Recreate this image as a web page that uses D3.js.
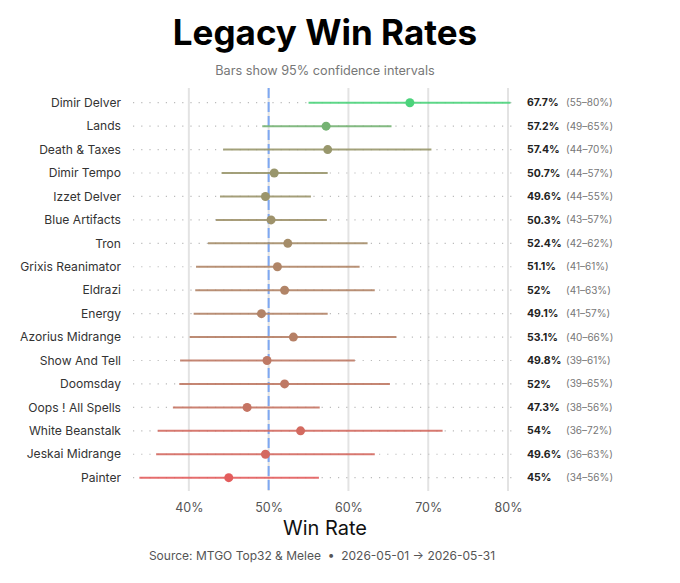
<!DOCTYPE html>
<html>
<head>
<meta charset="utf-8">
<script src="https://cdn.jsdelivr.net/npm/d3@7"></script>
<style>
  body { margin: 0; background: #fff; font-family: Inter, "Noto Sans", sans-serif; }
</style>
</head>
<body>
<div id="chart"></div>
<script>
const decks = ['Dimir Delver', 'Lands', 'Death & Taxes', 'Dimir Tempo', 'Izzet Delver', 'Blue Artifacts',
    'Tron', 'Grixis Reanimator', 'Eldrazi', 'Energy', 'Azorius Midrange', 'Show And Tell', 'Doomsday',
    'Oops ! All Spells', 'White Beanstalk', 'Jeskai Midrange', 'Painter']
const winRates = [67.7, 57.2, 57.4, 50.7, 49.6, 50.3, 52.4, 51.1, 52, 49.1, 53.1, 49.8, 52, 47.3, 54, 49.6, 45]
const ciLow = [55.0, 49.2, 44.3, 44.1, 43.9, 43.4, 42.4, 40.9, 40.8, 40.6, 40.1, 38.9, 38.8, 38.0, 36.1, 35.9, 33.8]
const ciHigh = [80.3, 65.4, 70.4, 57.4, 55.3, 57.3, 62.4, 61.4, 63.3, 57.4, 66.0, 60.8, 65.2, 56.4, 71.8, 63.3, 56.3]
const xTicks = [40, 50, 60, 70, 80]

const width = 680
const height = 583

const rows = decks.map((d, i) => ({ deck: d, wr: winRates[i], lo: ciLow[i], hi: ciHigh[i] }))

const svg = d3.select('#chart').append('svg')
    .attr('width', width)
    .attr('height', height)
    .style('font-family', 'Inter, "Noto Sans", sans-serif')

const xScale = d3.scaleLinear()
    .domain([d3.min(ciLow) - 0.8, d3.max(ciHigh) + 0.7])
    .range([133, 516])

const yScale = d3.scalePoint()
    .domain(decks)
    .range([91, 489.4])
    .padding(0.5)

// colour follows the lower bound of the interval
const color = d3.scaleLinear()
    .domain([d3.min(ciLow), d3.max(ciLow)])
    .range(['#e35d5d', '#4bd37b'])
    .interpolate(d3.interpolateRgb)

const gridTop = 88
const gridBottom = 491

// title
svg.append('text')
    .attr('x', 325).attr('y', 45)
    .attr('text-anchor', 'middle')
    .attr('font-size', 35).attr('font-weight', 700)
    .attr('fill', '#000')
    .text('Legacy Win Rates')

svg.append('text')
    .attr('x', 325).attr('y', 75)
    .attr('text-anchor', 'middle')
    .attr('font-size', 12.7)
    .attr('fill', '#777')
    .text('Bars show 95% confidence intervals')

// vertical grid
svg.append('g')
    .selectAll('line')
    .data(xTicks)
    .join('line')
    .attr('x1', d => xScale(d)).attr('x2', d => xScale(d))
    .attr('y1', gridTop).attr('y2', gridBottom)
    .attr('stroke', '#e3e3e3')
    .attr('stroke-width', 2)

// row guides
svg.append('g')
    .selectAll('line')
    .data(rows)
    .join('line')
    .attr('x1', xScale.range()[0]).attr('x2', xScale.range()[1])
    .attr('y1', d => yScale(d.deck)).attr('y2', d => yScale(d.deck))
    .attr('stroke', '#bbb')
    .attr('stroke-width', 1.2)
    .attr('stroke-dasharray', '1.2,7')

// 50% reference
svg.append('line')
    .attr('x1', xScale(50)).attr('x2', xScale(50))
    .attr('y1', gridTop).attr('y2', gridBottom)
    .attr('stroke', '#7ea8f2')
    .attr('stroke-width', 2)
    .attr('stroke-dasharray', '10,4')

// intervals
svg.append('g')
    .selectAll('line')
    .data(rows)
    .join('line')
    .attr('x1', d => xScale(d.lo)).attr('x2', d => xScale(d.hi))
    .attr('y1', d => yScale(d.deck)).attr('y2', d => yScale(d.deck))
    .attr('stroke', d => color(d.lo))
    .attr('stroke-opacity', 0.9)
    .attr('stroke-width', 2)

svg.append('g')
    .selectAll('circle')
    .data(rows)
    .join('circle')
    .attr('cx', d => xScale(d.wr))
    .attr('cy', d => yScale(d.deck))
    .attr('r', 4.5)
    .attr('fill', d => color(d.lo))

// deck names
svg.append('g')
    .selectAll('text')
    .data(rows)
    .join('text')
    .attr('x', 121)
    .attr('y', d => yScale(d.deck))
    .attr('dy', '0.35em')
    .attr('text-anchor', 'end')
    .attr('font-size', 12.1)
    .attr('fill', '#333')
    .text(d => d.deck)

// value labels
svg.append('g')
    .selectAll('text')
    .data(rows)
    .join('text')
    .attr('x', 527)
    .attr('y', d => yScale(d.deck))
    .attr('dy', '0.35em')
    .attr('font-size', 10.5)
    .attr('font-weight', 700)
    .attr('fill', '#222')
    .text(d => `${d.wr}%`)

svg.append('g')
    .selectAll('text')
    .data(rows)
    .join('text')
    .attr('x', 566)
    .attr('y', d => yScale(d.deck))
    .attr('dy', '0.35em')
    .attr('font-size', 10)
    .attr('fill', '#777')
    .text(d => `(${Math.round(d.lo)}–${Math.round(d.hi)}%)`)

// x axis
const xAxis = g => g
    .attr('transform', `translate(0, ${gridBottom})`)
    .call(d3.axisBottom(xScale).tickValues(xTicks).tickFormat(d => d + '%').tickSize(0).tickPadding(12))
    .call(g => g.select('.domain').remove())
    .call(g => g.selectAll('text')
        .attr('font-size', 12.5)
        .attr('font-family', 'Inter, "Noto Sans", sans-serif')
        .attr('fill', '#555'))

svg.append('g').call(xAxis)

svg.append('text')
    .attr('x', 325).attr('y', 535)
    .attr('text-anchor', 'middle')
    .attr('font-size', 20)
    .attr('fill', '#111')
    .text('Win Rate')

svg.append('text')
    .attr('x', 322).attr('y', 560)
    .attr('text-anchor', 'middle')
    .attr('font-size', 12)
    .attr('fill', '#555')
    .text('Source: MTGO Top32 & Melee  •  2026-05-01 → 2026-05-31')
    .attr('xml:space', 'preserve')
    .style('white-space', 'pre')
</script>
</body>
</html>
